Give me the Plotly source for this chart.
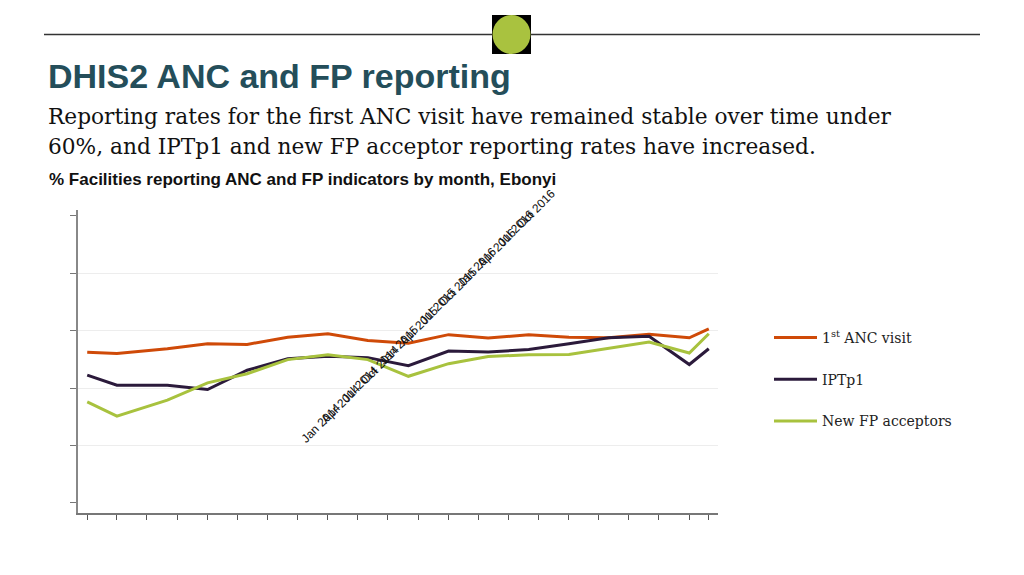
import plotly.graph_objects as go

W, H = 1024, 575
OFF = 8  # page body margin: screen px -> figure px
L, R, T, B = 78 - OFF, 718 - OFF, 210 - OFF, 513 - OFF  # plot area in figure px

# data points (reporting month) and % of facilities reporting
months = ['2014-01-01', '2014-04-01', '2014-09-01', '2015-01-01', '2015-05-01',
          '2015-09-01', '2016-01-01', '2016-05-01', '2016-09-01', '2017-01-01',
          '2017-05-01', '2017-09-01', '2018-01-01', '2018-05-01', '2018-09-01',
          '2019-01-01', '2019-03-01']
anc1 = [52.5, 52.0, 53.7, 55.4, 55.2, 57.7, 58.9, 56.6, 55.6, 58.6,
        57.4, 58.6, 57.7, 57.5, 58.7, 57.5, 60.6]
iptp1 = [44.5, 41.0, 41.0, 39.5, 46.2, 50.2, 51.1, 50.6, 47.8, 52.9,
         52.6, 53.4, 55.4, 57.5, 58.0, 48.2, 53.7]
fp_new = [35.2, 30.2, 35.8, 41.8, 45.0, 49.9, 51.6, 49.9, 44.1, 48.5,
          51.0, 51.6, 51.7, 53.7, 56.0, 52.2, 58.9]

series_names = ['1<sup>st</sup> ANC visit', 'IPTp1', 'New FP acceptors']
series_colors = ['#CF4A08', '#2B1A3B', '#A8C23E']

# quarterly ticks on the axis
tick_dates = ['2014-01-01', '2014-04-01', '2014-07-01', '2014-10-01', '2015-01-01',
              '2015-04-01', '2015-07-01', '2015-10-01', '2016-01-01', '2016-04-01',
              '2016-07-01', '2016-10-01', '2017-01-01', '2017-04-01', '2017-07-01',
              '2017-10-01', '2018-01-01', '2018-04-01', '2018-07-01', '2018-10-01',
              '2019-01-01', '2019-03-01']
# labels as they were drawn (piled up on a diagonal)
tick_labels = ['Jan 2014', 'Apr 2014', 'Jul 2014', 'Oct 2014', 'Jan 2015', 'Apr 2015',
               'Jul 2015', 'Oct 2015', 'Jan 2016', 'Apr 2016', 'Jul 2016', 'Oct 2016']
y_ticks = [0, 20, 40, 60, 80, 100]
y_grid = [20, 40, 60, 80]


# screen pixel -> paper (paper spans the plot area)
def px(x):
    return (x - OFF - L) / (R - L)


def py(y):
    return (B - (y - OFF)) / (B - T)


fig = go.Figure()

for name, vals, col in zip(series_names, [anc1, iptp1, fp_new], series_colors):
    fig.add_trace(go.Scatter(
        x=months, y=vals, mode='lines', name=name, legendgroup=name,
        line=dict(color=col, width=3),
    ))

fig.update_layout(
    width=W, height=H,
    margin=dict(l=L, r=W - R, t=T, b=H - B, pad=0),
    paper_bgcolor='white', plot_bgcolor='white',
    showlegend=True,
    legend=dict(
        x=px(769), y=py(322), xanchor='left', yanchor='top',
        font=dict(family='DejaVu Serif', size=14, color='#222'),
        tracegroupgap=20.5, itemwidth=43, bgcolor='rgba(0,0,0,0)',
    ),
    xaxis=dict(
        type='date', range=['2013-12-04', '2019-03-29'],
        tickmode='array', tickvals=tick_dates, ticktext=[''] * len(tick_dates),
        ticks='outside', ticklen=5, tickcolor='#555', tickwidth=1,
        showline=True, linecolor='#777', linewidth=1.5,
        showgrid=False, zeroline=False,
    ),
    yaxis=dict(
        range=[-3.5, 102], tickmode='array', tickvals=y_ticks,
        showticklabels=False, ticks='outside', ticklen=6, tickcolor='#777',
        showline=True, linecolor='#888', linewidth=1.5,
        showgrid=False, zeroline=False,
        minor=dict(tickmode='array', tickvals=y_grid, showgrid=True,
                   gridcolor='#EDEDED', gridwidth=1, ticklen=0),
    ),
)

# header rule and the green dot badge
fig.add_shape(type='line', xref='paper', yref='paper',
              x0=px(44), x1=px(980), y0=py(34.5), y1=py(34.5),
              line=dict(color='#333', width=1.5))
fig.add_shape(type='rect', xref='paper', yref='paper',
              x0=px(492), x1=px(531), y0=py(15), y1=py(54),
              fillcolor='black', line=dict(width=0))
fig.add_shape(type='circle', xref='paper', yref='paper',
              x0=px(492.5), x1=px(530.5), y0=py(15), y1=py(54),
              fillcolor='#A9C23F', line=dict(width=0))

# titles
fig.add_annotation(text='<b>DHIS2 ANC and FP reporting</b>', xref='paper', yref='paper',
                   x=px(46), y=py(76), xanchor='left', yanchor='middle', showarrow=False,
                   font=dict(family='Liberation Sans', size=34, color='#244E5A'))
fig.add_annotation(text='Reporting rates for the first ANC visit have remained stable over time under',
                   xref='paper', yref='paper', x=px(46), y=py(117), xanchor='left',
                   yanchor='middle', showarrow=False,
                   font=dict(family='DejaVu Serif', size=21.7, color='#111'))
fig.add_annotation(text='60%, and IPTp1 and new FP acceptor reporting rates have increased.',
                   xref='paper', yref='paper', x=px(46), y=py(146), xanchor='left',
                   yanchor='middle', showarrow=False,
                   font=dict(family='DejaVu Serif', size=21.7, color='#111'))
fig.add_annotation(text='<b>% Facilities reporting ANC and FP indicators by month, Ebonyi</b>',
                   xref='paper', yref='paper', x=px(47), y=py(180), xanchor='left',
                   yanchor='middle', showarrow=False,
                   font=dict(family='Liberation Sans', size=17, color='#111'))

# the date labels, stacked along a diagonal as in the original
for i, lab in enumerate(tick_labels):
    fig.add_annotation(text=lab, xref='paper', yref='paper',
                       x=px(321 + 19.5 * i), y=py(423 - 19.5 * i),
                       xanchor='center', yanchor='middle', textangle=-45, showarrow=False,
                       font=dict(family='Liberation Sans', size=12, color='#111'))

fig.write_html('out.html')
